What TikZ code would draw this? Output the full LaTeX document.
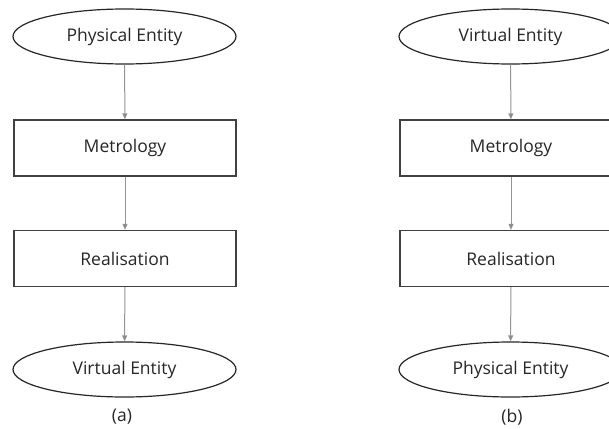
\documentclass[tikz,border=0pt]{standalone}
\usepackage{fontspec}
\setmainfont{Open Sans}
\usetikzlibrary{shapes.geometric,arrows.meta}
\begin{document}
\begin{tikzpicture}[x=1pt,y=-1pt,
  ent/.style={ellipse,draw=black!85,line width=1.2pt,minimum width=223pt,minimum height=55pt,inner sep=0pt,font=\fontsize{17.5}{21}\selectfont,text=black!85},
  stepbox/.style={rectangle,draw=black!75,line width=1.3pt,minimum width=222pt,minimum height=56pt,inner sep=0pt,font=\fontsize{17.5}{21}\selectfont,text=black!85},
  conn/.style={draw=black!42,line width=1pt,-{Triangle[length=6pt,width=5pt,fill=black!50]}},
  sublabel/.style={font=\fontsize{17.5}{21}\selectfont,text=black!85}]
\useasboundingbox (0,0) rectangle (609,428);
\clip (0,0) rectangle (609,428);
% left column
\node[ent] (a1) at (124.5,36.5) {Physical Entity};
\node[stepbox] (a2) at (125,148) {Metrology};
\node[stepbox] (a3) at (125,258.5) {Realisation};
\node[ent] (a4) at (124.5,369.5) {Virtual Entity};
\node[sublabel] (la) at (122,417) {(a)};
\draw[conn] (a1) -- (a2);
\draw[conn] (a2) -- (a3);
\draw[conn] (a3) -- (a4);
% right column
\node[ent] (b1) at (510.5,36.5) {Virtual Entity};
\node[stepbox] (b2) at (511,148) {Metrology};
\node[stepbox] (b3) at (511,258.5) {Realisation};
\node[ent] (b4) at (510.5,369.5) {Physical Entity};
\node[sublabel] (lb) at (512,417) {(b)};
\draw[conn] (b1) -- (b2);
\draw[conn] (b2) -- (b3);
\draw[conn] (b3) -- (b4);
\end{tikzpicture}
\end{document}
